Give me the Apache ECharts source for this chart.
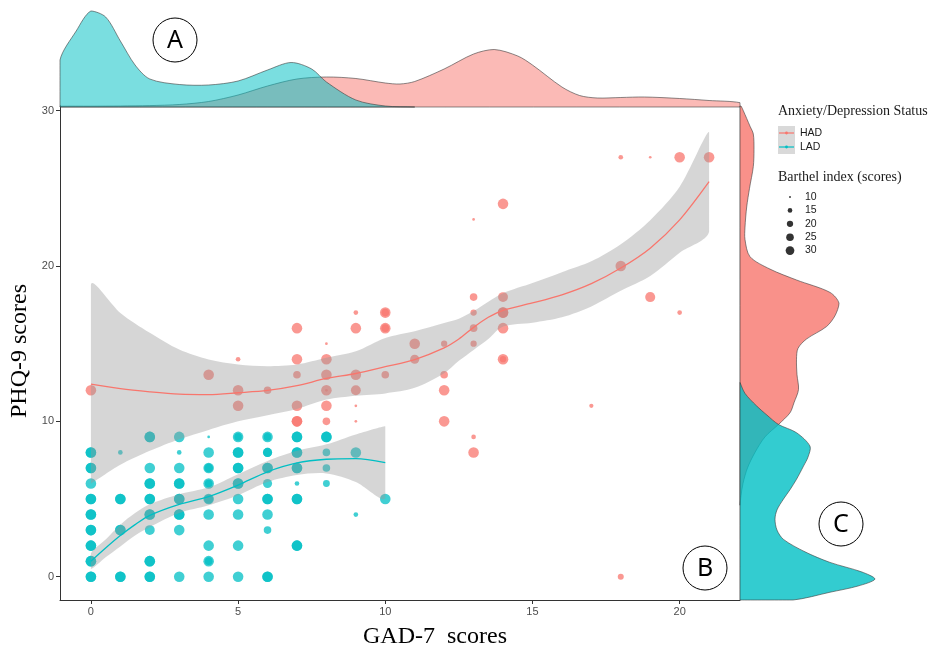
<!DOCTYPE html>
<html>
<head>
<meta charset="utf-8">
<script src="https://cdn.jsdelivr.net/npm/echarts@6/dist/echarts.min.js"></script>
<style>
  html, body { margin: 0; padding: 0; background: #fff; }
  #chart { width: 933px; height: 650px; }
</style>
</head>
<body>
<div id="chart"></div>
<script>
// Observations: [GAD-7 score, PHQ-9 score, Barthel index]
const hadPoints = [
  [0,12,40],
  [4,13,40],
  [5,14,15],[5,12,40],[5,11,40],
  [6,12,25],
  [7,16,40],[7,14,40],[7,13,25],[7,11,40],[7,10,40],[7,10,40],
  [8,15,11],[8,14,40],[8,13,40],[8,12,40],[8,12,11],[8,11,40],[8,10,25],
  [9,17,15],[9,16,40],[9,13,40],[9,12,36],[9,11,11],[9,10,11],
  [10,17,40],[10,17,25],[10,16,40],[10,16,25],[10,13,25],
  [11,15,40],[11,14,32],
  [12,15,20],[12,13,25],[12,12,40],[12,10,40],
  [13,23,11],[13,18,25],[13,17,20],[13,16,25],[13,15,20],[13,9,15],[13,8,40],
  [14,24,40],[14,18,36],[14,17,40],[14,17,40],[14,16,40],[14,14,40],[14,14,20],
  [17,11,14],
  [18,27,15],[18,20,40],[18,0,19],
  [19,27,11],[19,18,37],
  [20,27,40],[20,17,15],
  [21,27,40]
];
const ladPoints = [
  [0,0,40],[0,0,40],[0,1,40],[0,1,40],[0,2,40],[0,2,40],[0,3,40],[0,3,40],[0,4,40],[0,4,40],
  [0,5,40],[0,5,40],[0,6,40],[0,7,40],[0,7,40],[0,8,40],[0,8,40],
  [1,0,40],[1,0,40],[1,3,40],[1,3,40],[1,5,40],[1,5,40],[1,8,15],
  [2,0,40],[2,0,40],[2,1,40],[2,1,40],[2,3,36],[2,4,40],[2,4,40],[2,5,40],[2,5,40],
  [2,6,40],[2,6,40],[2,7,40],[2,9,40],[2,9,40],
  [3,0,40],[3,3,40],[3,4,40],[3,4,40],[3,5,40],[3,5,40],[3,6,40],[3,6,40],[3,7,40],[3,8,15],[3,9,40],
  [4,0,40],[4,1,40],[4,1,25],[4,2,40],[4,4,40],[4,5,40],[4,5,32],[4,6,40],[4,6,25],
  [4,7,40],[4,7,30],[4,8,40],[4,9,11],
  [5,0,40],[5,2,40],[5,4,40],[5,5,40],[5,6,40],[5,6,40],[5,7,40],[5,7,40],[5,8,40],[5,8,40],[5,9,40],[5,9,25],
  [6,0,40],[6,0,40],[6,3,25],[6,4,40],[6,5,40],[6,5,40],[6,6,32],[6,7,40],[6,7,40],[6,8,32],[6,8,32],[6,9,40],[6,9,25],
  [7,2,40],[7,2,40],[7,5,40],[7,5,40],[7,6,15],[7,7,40],[7,7,40],[7,8,40],[7,8,40],[7,9,40],[7,9,40],
  [8,6,22],[8,7,25],[8,8,25],[8,9,40],[8,9,40],
  [9,4,15],[9,8,40],
  [10,5,40]
];

// Loess fits with confidence bands
const hadFitX   = [0,1,2,3,4,5,6,7,8,9,10,11,12,12.5,13,13.5,14,15,16,17,18,19,20,21];
const hadFit    = [12.39,12.10,11.90,11.75,11.72,11.84,11.99,12.30,12.76,13.08,13.52,13.98,14.73,15.30,16.05,16.70,17.15,17.62,18.14,18.86,19.87,21.15,22.97,25.43];
const hadUpper  = [18.80,16.98,15.70,14.62,13.98,13.66,13.55,13.66,14.09,14.51,15.37,15.80,16.33,16.60,17.10,17.70,18.25,18.90,19.60,20.30,21.40,22.95,25.10,28.64];
const hadLower  = [6.00,7.20,8.10,8.85,9.45,10.00,10.40,10.80,11.40,11.65,11.80,12.16,13.10,13.90,14.60,15.30,16.10,16.35,16.70,17.40,18.40,19.35,20.85,22.20];
const ladFitX   = [0,0.5,1,1.5,2,3,4,5,6,7,8,9,10];
const ladFit    = [1.00,1.85,2.65,3.35,3.95,4.66,5.16,5.90,6.75,7.32,7.56,7.60,7.34];
const ladUpper  = [1.50,2.40,3.35,4.10,4.66,5.30,5.75,6.60,7.45,8.10,8.52,9.16,9.69];
const ladLower  = [0.50,1.25,1.95,2.65,3.20,4.10,4.60,5.25,6.10,6.55,6.65,6.10,5.05];

// Marginal densities of GAD-7 (top)
const ladTopX = [-1.05,-0.5,0,0.5,1,1.5,2,3,4,5,6,6.8,7.5,8,9,10,11];
const ladTopD = [0.094,0.152,0.192,0.180,0.132,0.084,0.056,0.045,0.044,0.052,0.074,0.089,0.076,0.050,0.014,0.002,0];
const hadTopX = [-1.05,0,1,2,3,4,5,6,7,8,9,10,10.5,11,12,13,13.7,14.5,15,16,16.6,17.2,18,18.8,20,21,22.05];
const hadTopD = [0.0014,0.0016,0.002,0.0028,0.005,0.011,0.024,0.042,0.056,0.060,0.057,0.048,0.046,0.051,0.076,0.106,0.115,0.102,0.084,0.040,0.023,0.018,0.019,0.020,0.017,0.013,0.0086];

// Marginal densities of PHQ-9 (right)
const hadRightY = [30.3,30,29,28.5,27.5,26.4,25,23.8,22.5,21.7,20.6,19.8,19.1,18.3,17.6,16.8,16.1,15.3,14.7,14,13,12.05,11.2,10.55,9.8,9,8,7,6,5.2,4.6];
const hadRightD = [0.002,0.0066,0.020,0.0266,0.028,0.0266,0.019,0.0134,0.010,0.010,0.020,0.060,0.113,0.180,0.198,0.190,0.173,0.133,0.116,0.113,0.114,0.117,0.108,0.100,0.077,0.050,0.030,0.015,0.006,0.002,0];
const ladRightY = [12.5,11.8,11,10.4,9.8,9.27,8.4,7.7,7.12,6.27,5.6,5,4.3,3.7,3,2.4,1.6,0.92,0.3,-0.15,-0.6,-1,-1.5];
const ladRightD = [0,0.010,0.033,0.054,0.077,0.113,0.140,0.136,0.127,0.113,0.100,0.087,0.074,0.070,0.074,0.087,0.130,0.180,0.244,0.270,0.236,0.180,0.106];

// Axis ticks
const xTicks = [0,5,10,15,20];
const yTicks = [0,10,20,30];
const barthelLegend = [10,15,20,25,30];

const HAD = '#F8766D', LAD = '#00BFC4';
const SERIF = '"Liberation Serif", "Times New Roman", serif';
const SANS = '"Liberation Sans", Arial, sans-serif';

function barthelSize(v) { return 1.9 * Math.sqrt(Math.max(v - 9, 0.9)); }

// Filled density outline drawn as one closed polygon
function densitySeries(pos, dens, vertical, gridIdx, fill) {
  return {
    type: 'custom', xAxisIndex: gridIdx, yAxisIndex: gridIdx, z: 2, silent: true,
    data: pos.map((p, i) => vertical ? [dens[i], p] : [p, dens[i]]),
    renderItem(params, api) {
      if (params.dataIndex !== 0) return null;
      const pt = (p, d) => api.coord(vertical ? [d, p] : [p, d]);
      const pts = [pt(pos[0], 0)];
      pos.forEach((p, i) => pts.push(pt(p, dens[i])));
      pts.push(pt(pos[pos.length - 1], 0));
      return {
        type: 'polygon',
        shape: { points: pts, smooth: 0.3, smoothConstraint: [pts[0], pts[0]] },
        style: { fill: fill, stroke: '#3d3d3d', lineWidth: 0.6 }
      };
    }
  };
}

// Confidence band between lower and upper curves
function bandSeries(xs, lo, hi) {
  return {
    type: 'custom', xAxisIndex: 0, yAxisIndex: 0, z: 3, silent: true,
    data: xs.map((x, i) => [x, lo[i], hi[i]]),
    renderItem(params, api) {
      if (params.dataIndex !== 0) return null;
      const pts = [];
      xs.forEach((x, i) => pts.push(api.coord([x, hi[i]])));
      for (let i = xs.length - 1; i >= 0; i--) pts.push(api.coord([xs[i], lo[i]]));
      return {
        type: 'polygon',
        shape: { points: pts, smooth: 0.3, smoothConstraint: [pts[0], pts[0]] },
        style: { fill: 'rgba(153,153,153,0.4)' }
      };
    }
  };
}

function fitSeries(xs, ys, color) {
  return {
    type: 'line', xAxisIndex: 0, yAxisIndex: 0, z: 4, silent: true,
    data: xs.map((x, i) => [x, ys[i]]),
    smooth: 0.3, showSymbol: false, symbol: 'none',
    lineStyle: { color: color, width: 1.3 }
  };
}

function scatterSeries(name, pts, color) {
  return {
    name: name, type: 'scatter', xAxisIndex: 0, yAxisIndex: 0, z: 2,
    data: pts,
    symbolSize: v => barthelSize(v[2]),
    itemStyle: { color: color, opacity: 0.75 }
  };
}

// Legend and annotation graphics
const graphics = [];
function txt(x, y, s, font, extra) {
  graphics.push(Object.assign({
    type: 'text', x: x, y: y, z: 10,
    style: { text: s, font: font, fill: '#1a1a1a', align: 'left', verticalAlign: 'middle',
             textAlign: 'left', textVerticalAlign: 'middle' }
  }, extra || {}));
}
txt(778, 111, 'Anxiety/Depression Status', '14px ' + SERIF);
graphics.push({ type: 'rect', z: 10, shape: { x: 778, y: 126, width: 17, height: 28 }, style: { fill: '#D9D9D9' } });
[['HAD', HAD, 133], ['LAD', LAD, 147]].forEach(([label, c, y]) => {
  graphics.push({ type: 'line', z: 11, shape: { x1: 779, y1: y, x2: 794, y2: y }, style: { stroke: c, lineWidth: 1.2 } });
  graphics.push({ type: 'circle', z: 11, shape: { cx: 786.5, cy: y, r: 1.4 }, style: { fill: c } });
  txt(800, y, label, '10.5px ' + SANS);
});
txt(778, 177, 'Barthel index (scores)', '14px ' + SERIF);
barthelLegend.forEach((v, i) => {
  const y = 197 + i * 13.4;
  graphics.push({ type: 'circle', z: 11, shape: { cx: 790, cy: y, r: barthelSize(v) / 2 }, style: { fill: '#333' } });
  txt(805, y, String(v), '10.5px ' + SANS);
});
// Axis titles
graphics.push({ type: 'text', x: 435, y: 637, z: 10,
  style: { text: 'GAD-7  scores', font: '24px ' + SERIF, fill: '#000',
           align: 'center', verticalAlign: 'middle', textAlign: 'center', textVerticalAlign: 'middle' } });
graphics.push({ type: 'text', x: 20, y: 351, rotation: Math.PI / 2, z: 10,
  style: { text: 'PHQ-9 scores', font: '24px ' + SERIF, fill: '#000',
           align: 'center', verticalAlign: 'middle', textAlign: 'center', textVerticalAlign: 'middle' } });
// Panel labels
[['A', 175, 40], ['B', 705, 568], ['C', 841, 524]].forEach(([s, cx, cy]) => {
  graphics.push({ type: 'circle', z: 10, shape: { cx: cx, cy: cy, r: 22 }, style: { fill: 'none', stroke: '#000', lineWidth: 1 } });
  graphics.push({ type: 'text', x: cx, y: cy + 1, z: 10,
    style: { text: s, font: '25px "Noto Sans", ' + SANS, fill: '#000',
             align: 'center', verticalAlign: 'middle', textAlign: 'center', textVerticalAlign: 'middle' } });
});
// Baseline of the right-hand density panel
graphics.push({ type: 'line', z: 1, shape: { x1: 740, y1: 106, x2: 740, y2: 600 }, style: { stroke: '#bdbdbd', lineWidth: 1 } });

const axisGrey = '#333333';
const option = {
  animation: false,
  backgroundColor: '#ffffff',
  grid: [
    { left: 60, top: 106, width: 680, height: 494 },
    { left: 60, top: 5, width: 680, height: 102 },
    { left: 740, top: 106, width: 193, height: 494 }
  ],
  xAxis: [
    {
      gridIndex: 0, type: 'value', min: -1.05, max: 22.05,
      axisLine: { show: true, onZero: false, lineStyle: { color: axisGrey, width: 1 } },
      axisTick: { show: true, customValues: xTicks, length: 4, lineStyle: { color: axisGrey } },
      axisLabel: { customValues: xTicks, color: '#4D4D4D', fontSize: 11, fontFamily: SANS, margin: 6 },
      splitLine: { show: false }
    },
    { gridIndex: 1, type: 'value', min: -1.05, max: 22.05, show: false },
    { gridIndex: 2, type: 'value', min: 0, max: 0.386, show: false }
  ],
  yAxis: [
    {
      gridIndex: 0, type: 'value', min: -1.5, max: 30.3,
      axisLine: { show: true, onZero: false, lineStyle: { color: axisGrey, width: 1 } },
      axisTick: { show: true, customValues: yTicks, length: 4, lineStyle: { color: axisGrey } },
      axisLabel: { customValues: yTicks, color: '#4D4D4D', fontSize: 11, fontFamily: SANS, margin: 6 },
      splitLine: { show: false }
    },
    { gridIndex: 1, type: 'value', min: 0, max: 0.204, show: false },
    { gridIndex: 2, type: 'value', min: -1.5, max: 30.3, show: false }
  ],
  series: [
    scatterSeries('HAD', hadPoints, HAD),
    scatterSeries('LAD', ladPoints, LAD),
    bandSeries(hadFitX, hadLower, hadUpper),
    bandSeries(ladFitX, ladLower, ladUpper),
    fitSeries(hadFitX, hadFit, HAD),
    fitSeries(ladFitX, ladFit, LAD),
    densitySeries(hadTopX, hadTopD, false, 1, 'rgba(248,118,109,0.5)'),
    densitySeries(ladTopX, ladTopD, false, 1, 'rgba(0,191,196,0.52)'),
    densitySeries(hadRightY, hadRightD, true, 2, 'rgba(248,118,109,0.8)'),
    densitySeries(ladRightY, ladRightD, true, 2, 'rgba(0,191,196,0.8)')
  ],
  graphic: graphics
};

const chart = echarts.init(document.getElementById('chart'), null, { renderer: 'canvas' });
chart.setOption(option);
</script>
</body>
</html>
